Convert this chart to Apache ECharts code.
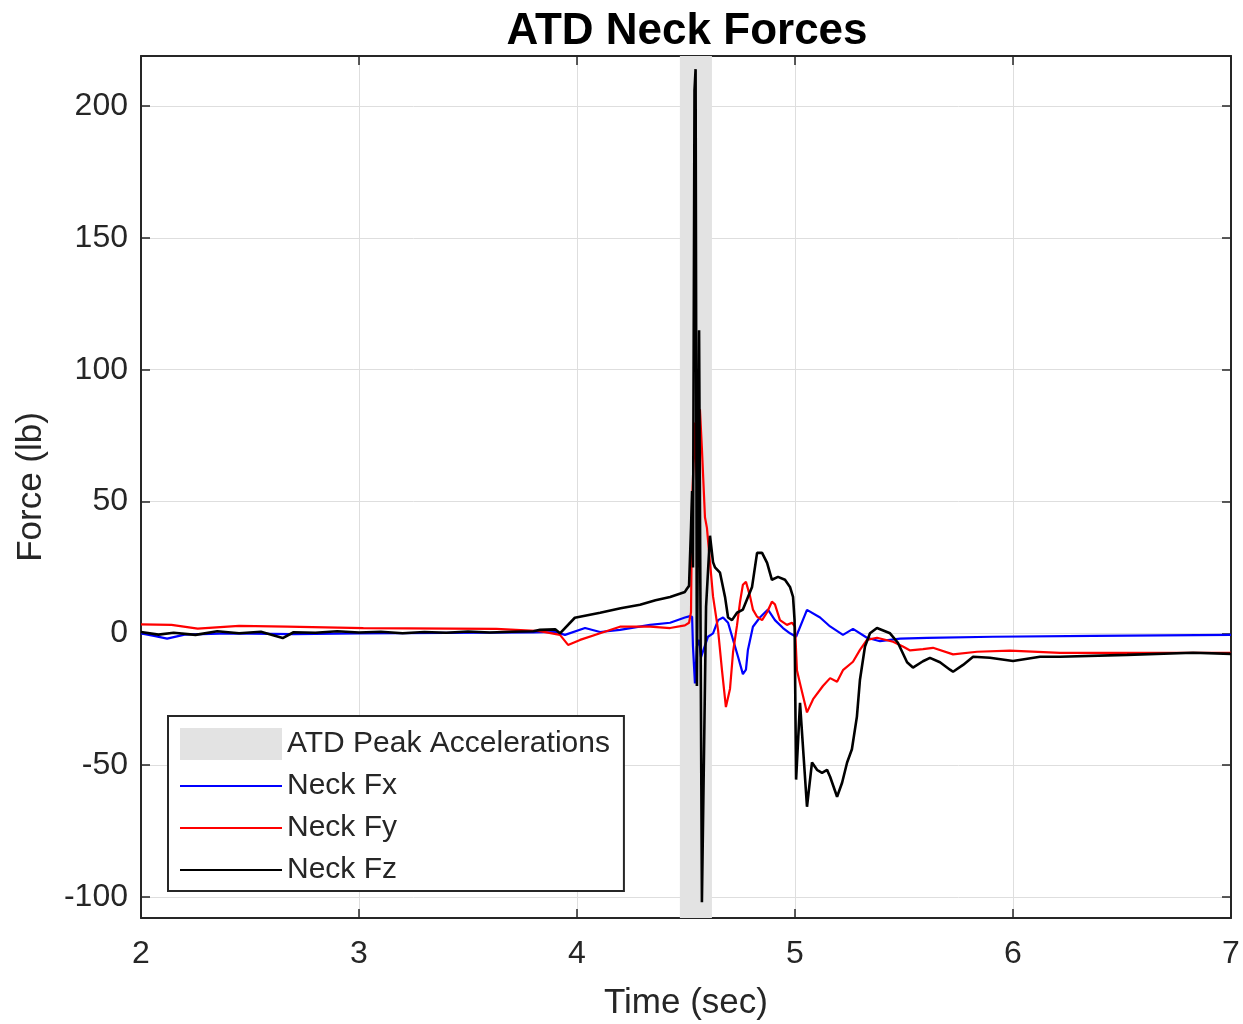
<!DOCTYPE html>
<html lang="en">

<head>
    <meta charset="UTF-8">
    <title>ATD Neck Forces</title>
    <script src="https://cdn.jsdelivr.net/npm/echarts@6/dist/echarts.min.js"></script>
    <style>
        body { margin: 0; background: #fff; }
    </style>
</head>

<body>
    <div id="main" style="width: 1243px;height:1024px;"></div>
    <script type="text/javascript">
        // tick values
        const xTicks = [2, 3, 4, 5, 6, 7];
        const yTicks = [-100, -50, 0, 50, 100, 150, 200];

        // shaded window of peak accelerations (sec)
        const peakWindow = [4.472, 4.619];

        // Neck Fx (blue)
        const fxTime = [2.00, 2.06, 2.12, 2.20, 2.40, 2.70, 3.00, 3.40, 3.80, 3.90, 3.945, 4.037, 4.106, 4.197,
            4.335, 4.427, 4.495, 4.518, 4.528, 4.532, 4.541, 4.550, 4.560, 4.569, 4.578, 4.601, 4.624, 4.647,
            4.670, 4.693, 4.716, 4.739, 4.761, 4.775, 4.784, 4.807, 4.839, 4.876, 4.908, 4.945, 4.977, 5.005,
            5.055, 5.115, 5.161, 5.220, 5.266, 5.330, 5.390, 5.482, 5.606, 5.908, 6.367, 7.00];
        const fxValues = [0, -1, -2, -0.5, 0, -0.3, 0, 0.2, 0.3, 0.5, -0.6, 2, 0.5, 1.3,
            3.2, 4, 6, 6.5, 6.3, -5, -19, -5, -2.5, -9, -8.9, -1.3, 0, 5,
            6, 4, -2.5, -9, -15.5, -13.8, -6.3, 2.5, 6, 9, 5, 2, 0, -1.3,
            8.9, 6, 2.6, -0.6, 1.7, -1.7, -3, -2, -1.7, -1.3, -1, -0.6];

        // Neck Fy (red)
        const fyTime = [2.00, 2.14, 2.26, 2.45, 2.67, 3.02, 3.63, 3.83, 3.922, 3.959, 4.014, 4.106, 4.197, 4.335,
            4.427, 4.495, 4.514, 4.523, 4.528, 4.537, 4.541, 4.546, 4.550, 4.555, 4.564, 4.573, 4.587, 4.596,
            4.610, 4.624, 4.647, 4.665, 4.683, 4.702, 4.716, 4.734, 4.748, 4.761, 4.775, 4.794, 4.807, 4.826,
            4.849, 4.872, 4.894, 4.908, 4.931, 4.963, 4.986, 5.000, 5.009, 5.023, 5.055, 5.083, 5.128, 5.161,
            5.193, 5.220, 5.266, 5.298, 5.330, 5.376, 5.450, 5.495, 5.528, 5.587, 5.633, 5.725, 5.835, 5.986,
            6.216, 6.523, 7.00];
        const fyValues = [3.4, 3.2, 1.8, 2.8, 2.5, 2.0, 1.7, 0.8, -0.6, -4.4, -2.5, 0, 2.5, 2.5,
            2, 3, 4, 8, 50, 70, 80, 65, 58, 78, 85, 70, 44, 40,
            27, 14, 1.3, -14, -28, -21, -7, 3, 12, 18.4, 19.5, 14, 9, 6.3,
            5, 8, 12, 11, 5, 3.2, 4, 2.6, -14, -19, -30, -25, -20, -17,
            -18.4, -14, -10.8, -6.3, -2.5, -1.7, -3.2, -5, -6.5, -6, -5.5, -8, -7, -6.6,
            -7.4, -7.4, -7.4];

        // Neck Fz (black)
        const fzTime = [2.00, 2.08, 2.15, 2.25, 2.35, 2.45, 2.55, 2.65, 2.70, 2.80, 2.90, 3.00, 3.10, 3.20,
            3.30, 3.40, 3.50, 3.60, 3.70, 3.80, 3.83, 3.90, 3.922, 3.99, 4.106, 4.20, 4.289, 4.36, 4.427,
            4.495, 4.505, 4.514, 4.523, 4.528, 4.532, 4.539, 4.544, 4.550, 4.560, 4.573, 4.592, 4.610, 4.624,
            4.633, 4.656, 4.679, 4.693, 4.711, 4.734, 4.761, 4.803, 4.826, 4.849, 4.872, 4.894, 4.922, 4.954,
            4.977, 4.991, 4.998, 5.005, 5.023, 5.055, 5.078, 5.101, 5.124, 5.147, 5.161, 5.193, 5.216, 5.239,
            5.261, 5.284, 5.298, 5.321, 5.344, 5.376, 5.436, 5.472, 5.514, 5.541, 5.587, 5.619, 5.665, 5.711,
            5.725, 5.771, 5.817, 5.894, 6.00, 6.124, 6.216, 6.523, 6.826, 7.00];
        const fzValues = [0.5, -0.5, 0.2, -0.6, 0.8, 0, 0.6, -1.8, 0.4, 0.2, 0.8, 0.3, 0.6, 0,
            0.5, 0.2, 0.7, 0.3, 0.6, 0.8, 1.3, 1.5, 0, 5.9, 7.8, 9.5, 10.8, 12.5, 13.8,
            15.7, 17, 18, 40, 54, 25, 206, 214, -20, 115, -102, 10, 37, 27,
            25, 23, 13.8, 6, 5, 7.8, 9, 17.6, 30.5, 30.5, 26.7, 20.3, 21.4, 20.3,
            17.6, 13.8, 5, -55.5, -26.4, -65.8, -49, -51.8, -52.9, -51.8, -54.4, -62, -56.7, -49,
            -44, -31.6, -17.6, -5, 0, 2, 0, -3.6, -11, -13, -10.6, -9.3, -11, -13.8,
            -14.6, -12, -8.9, -9.3, -10.5, -8.9, -8.9, -8.2, -7.4, -7.8];

        const pairs = (t, v) => t.map((x, i) => [x, v[i]]);

        const font = 'Liberation Sans, Arial, Helvetica, sans-serif';
        const ink = '#262626';
        const lineIcon = 'path://M0,0H100V2H0Z';

        let options = {
            animation: false,
            backgroundColor: '#fff',
            title: {
                text: 'ATD Neck Forces',
                left: 682,
                top: 5,
                textAlign: 'center',
                textStyle: { fontFamily: font, fontSize: 44, fontWeight: 'bold', color: '#000' }
            },
            grid: { left: 141, right: 12, top: 56, bottom: 106, containLabel: false, outerBoundsMode: 'none' },
            legend: {
                orient: 'vertical',
                left: 168,
                top: 716,
                padding: [12, 14, 5, 12],
                itemGap: 10,
                itemWidth: 102,
                itemHeight: 32,
                borderColor: ink,
                borderWidth: 2,
                backgroundColor: '#fff',
                textStyle: { fontFamily: font, fontSize: 30, color: ink, lineHeight: 32 },
                data: [
                    { name: 'ATD Peak Accelerations', icon: 'rect' },
                    { name: 'Neck Fx', icon: lineIcon },
                    { name: 'Neck Fy', icon: lineIcon },
                    { name: 'Neck Fz', icon: lineIcon }
                ]
            },
            xAxis: [{
                type: 'value',
                min: xTicks[0],
                max: xTicks[xTicks.length - 1],
                interval: 1,
                name: 'Time (sec)',
                nameLocation: 'middle',
                nameGap: 68,
                nameTextStyle: { fontFamily: font, fontSize: 35, color: ink },
                axisLine: { onZero: false, lineStyle: { color: ink, width: 2 } },
                axisTick: { inside: true, length: 9, lineStyle: { color: ink, width: 1.5 } },
                axisLabel: { fontFamily: font, fontSize: 32, color: ink, margin: 20 },
                splitLine: { show: true, lineStyle: { color: '#dedede', width: 1 } }
            }, {
                type: 'value',
                position: 'top',
                min: xTicks[0],
                max: xTicks[xTicks.length - 1],
                interval: 1,
                axisLine: { show: true, onZero: false, lineStyle: { color: ink, width: 2 } },
                axisTick: { show: true, inside: true, length: 9, lineStyle: { color: ink, width: 1.5 } },
                axisLabel: { show: false },
                splitLine: { show: false }
            }],
            yAxis: [{
                type: 'value',
                min: -108,
                max: 219,
                minInterval: 50,
                maxInterval: 50,
                name: 'Force (lb)',
                nameLocation: 'middle',
                nameGap: 92,
                nameTextStyle: { fontFamily: font, fontSize: 35, color: ink },
                axisLine: { show: true, onZero: false, lineStyle: { color: ink, width: 2 } },
                axisTick: { show: true, inside: true, length: 9, lineStyle: { color: ink, width: 1.5 } },
                axisLabel: {
                    fontFamily: font, fontSize: 32, color: ink, margin: 13,
                    formatter: (v) => yTicks.includes(v) ? String(v) : ''
                },
                splitLine: { show: true, lineStyle: { color: '#dedede', width: 1 } }
            }, {
                type: 'value',
                position: 'right',
                min: -108,
                max: 219,
                minInterval: 50,
                maxInterval: 50,
                axisLine: { show: true, onZero: false, lineStyle: { color: ink, width: 2 } },
                axisTick: { show: true, inside: true, length: 9, lineStyle: { color: ink, width: 1.5 } },
                axisLabel: { show: false },
                splitLine: { show: false }
            }],
            series: [{
                name: 'ATD Peak Accelerations',
                type: 'line',
                data: [],
                z: 1,
                itemStyle: { color: '#e3e3e3' },
                lineStyle: { color: '#e3e3e3' },
                markArea: {
                    silent: true,
                    itemStyle: { color: '#e3e3e3' },
                    data: [[{ xAxis: peakWindow[0] }, { xAxis: peakWindow[1] }]]
                }
            }, {
                name: 'Neck Fx',
                type: 'line',
                data: pairs(fxTime, fxValues),
                symbol: 'none',
                z: 3,
                itemStyle: { color: '#0000ff' },
                lineStyle: { color: '#0000ff', width: 2.2 }
            }, {
                name: 'Neck Fy',
                type: 'line',
                data: pairs(fyTime, fyValues),
                symbol: 'none',
                z: 3,
                itemStyle: { color: '#ff0000' },
                lineStyle: { color: '#ff0000', width: 2.2 }
            }, {
                name: 'Neck Fz',
                type: 'line',
                data: pairs(fzTime, fzValues),
                symbol: 'none',
                z: 4,
                itemStyle: { color: '#000000' },
                lineStyle: { color: '#000000', width: 2.6 }
            }]
        };

        let myChart = echarts.init(document.getElementById('main'));
        myChart.setOption(options);
    </script>
</body>

</html>
